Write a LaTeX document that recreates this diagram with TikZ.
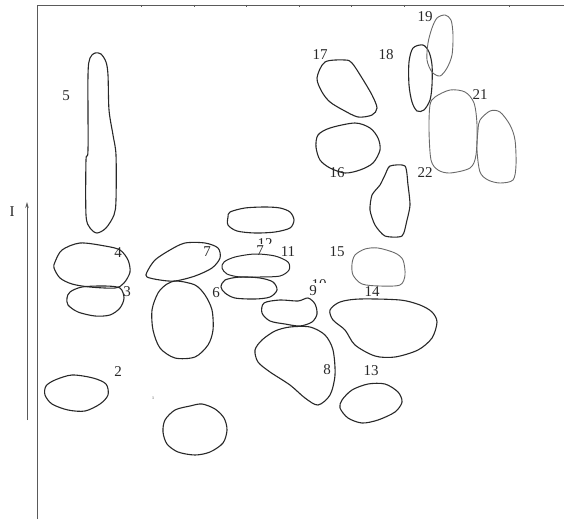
\documentclass[tikz,border=0pt]{standalone}
\usepackage{fontspec}
\setmainfont{Liberation Serif}
\usetikzlibrary{arrows.meta}
\definecolor{ink}{RGB}{40,40,40}
\definecolor{pale}{RGB}{105,105,105}
\definecolor{axis}{RGB}{90,90,90}

\begin{document}
\begin{tikzpicture}[x=1pt, y=-1pt, line width=1.1pt,
    spot/.style={draw=ink, line join=round},
    faint/.style={draw=pale, line width=0.9pt},
    lbl/.style={inner sep=0pt, font=\fontsize{15}{15}\selectfont, text=ink}]
  \useasboundingbox (0,0) rectangle (564,519);
  % frame + ticks
  \draw[axis, line width=0.8pt] (37,519) -- (37,5) -- (564,5);
  \foreach \x in {141.7,194.3,246.7,299.3,351.7,404.3,509} \draw[axis, line width=0.6pt] (\x,5) -- (\x,7.5);
  % intensity arrow
  \coordinate (ibot) at (27,420);
  \coordinate (itop) at (27,202);
  \draw[axis, line width=0.9pt, -{Stealth[length=6pt,width=3.5pt]}] (ibot) -- (itop);
  \node[lbl] (ilab) at (12,212) {I};
  % spot 5
  \draw[spot] plot[smooth cycle, tension=0.5] coordinates {(95,53) (101,54) (106,62) (108,75) (109,110) (113,135) (116,155) (116,200) (114,215) (106,228) (97,233) (90,228) (86,215) (86,160) (88,150) (88,75) (90,58)};
  \node[lbl] (l5) at (66,96) {5};
  % spots 4, 3, 2
  \draw[spot] plot[smooth cycle, tension=0.5] coordinates {(55,262) (62,250) (80,243) (105,246) (120,250) (128,260) (130,272) (124,283) (115,288) (90,287) (72,284) (60,278) (54,268)};
  \node[lbl] (l4) at (118,253) {4};
  \draw[spot] plot[smooth cycle, tension=0.5] coordinates {(70,292) (82,287) (105,286) (120,288) (124,298) (120,308) (110,315) (95,316) (78,312) (68,305) (67,298)};
  \node[lbl] (l3) at (127,292) {3};
  \draw[spot] plot[smooth cycle, tension=0.5] coordinates {(46,386) (55,380) (72,375) (93,378) (106,384) (108,395) (100,404) (85,411) (68,410) (52,404) (45,395)};
  \node[lbl] (l2) at (118,372) {2};
  % spot 1
  \node[inner sep=0pt, font=\fontsize{4}{4}\selectfont, text=ink] (l1) at (153,398) {1};
  \draw[spot] plot[smooth cycle, tension=0.5] coordinates {(165,420) (175,410) (190,406) (202,404) (215,409) (224,418) (227,430) (223,443) (210,452) (195,455) (178,452) (167,444) (163,432)};
  % spot 7 and the one below it
  \draw[spot] plot[smooth cycle, tension=0.5] coordinates {(147,272) (155,260) (170,250) (185,243) (205,243) (218,248) (220,258) (212,268) (195,276) (175,281) (160,280) (147,277)};
  \node[lbl] (l7a) at (207,252) {7};
  \draw[spot] plot[smooth cycle, tension=0.5] coordinates {(177,281) (195,285) (205,295) (212,310) (213,330) (208,345) (195,357) (175,358) (160,348) (153,330) (152,310) (158,293) (167,284)};
  % spots 12, 11, 6
  \draw[spot] plot[smooth cycle, tension=0.5] coordinates {(230,212) (245,208) (265,207) (280,208) (290,212) (294,220) (290,228) (275,232) (255,233) (237,231) (228,225) (228,217)};
  \begin{scope}
    \clip (250,230) rectangle (285,243.5);
    \node[lbl] (l12) at (265,244) {12};
  \end{scope}
  \draw[spot, line width=1pt] plot[smooth cycle, tension=0.5] coordinates {(224,262) (235,257) (255,254) (275,256) (288,262) (289,270) (280,276) (260,277) (240,277) (227,274) (222,268)};
  \node[lbl] (l7b) at (260,251) {7};
  \node[lbl] (l11) at (288,252) {11};
  \draw[spot] plot[smooth cycle, tension=0.5] coordinates {(225,280) (240,277) (260,278) (273,282) (277,290) (270,297) (255,299) (235,298) (225,293) (221,287)};
  \node[lbl] (l6) at (216,293) {6};
  % spots 9, 10, 8
  \draw[spot] plot[smooth cycle, tension=0.5] coordinates {(264,303) (280,300) (298,301) (308,298) (315,304) (317,314) (312,322) (300,326) (285,324) (270,321) (262,313)};
  \node[lbl] (l9) at (313,291) {9};
  \begin{scope}
    \clip (305,270) rectangle (335,282.5);
    \node[lbl] (l10) at (319,285) {10};
  \end{scope}
  \draw[spot] plot[smooth cycle, tension=0.5] coordinates {(290,327) (310,327) (325,335) (333,350) (335,375) (330,395) (318,405) (305,398) (290,385) (270,372) (258,362) (255,350) (262,340) (275,331)};
  \node[lbl] (l8) at (327,370) {8};
  % spots 13, 14, 15
  \draw[spot] plot[smooth cycle, tension=0.5] coordinates {(342,400) (352,390) (368,384) (385,384) (398,392) (402,402) (395,412) (378,420) (362,423) (348,418) (340,408)};
  \node[lbl] (l13) at (371,371) {13};
  \draw[spot] plot[smooth cycle, tension=0.5] coordinates {(340,302) (360,299) (400,300) (420,305) (432,312) (437,322) (432,338) (418,350) (395,357) (375,356) (355,345) (345,330) (333,320) (330,310)};
  \node[lbl] (l14) at (372,292) {14};
  \draw[faint] plot[smooth cycle, tension=0.5] coordinates {(355,255) (365,249) (378,248) (395,253) (403,260) (405,275) (400,285) (380,286) (362,284) (353,275) (352,264)};
  \node[lbl] (l15) at (337,252) {15};
  % spots 22, 16, 17, 18
  \draw[spot] plot[smooth cycle, tension=0.4] coordinates {(390,166) (405,166) (408,185) (410,205) (407,220) (402,236) (385,236) (375,225) (370,210) (372,195) (380,185) (385,175)};
  \node[lbl] (l22) at (425,173) {22};
  \draw[spot] plot[smooth cycle, tension=0.5] coordinates {(318,135) (330,128) (355,123) (370,128) (378,138) (380,150) (373,163) (360,170) (345,173) (330,168) (320,160) (316,147)};
  \node[lbl] (l16) at (337,173) {16};
  \draw[spot] plot[smooth cycle, tension=0.5] coordinates {(325,62) (345,60) (352,63) (362,78) (372,95) (377,108) (372,115) (358,117) (343,110) (330,102) (322,92) (317,78)};
  \node[lbl] (l17) at (320,55) {17};
  \draw[spot] plot[smooth cycle, tension=0.5] coordinates {(413,48) (423,45) (429,52) (432,65) (432,85) (430,100) (424,110) (417,111) (412,102) (409,85) (409,62)};
  \node[lbl] (l18) at (386,55) {18};
  % spots 19, 21 and right neighbour
  \draw[faint] plot[smooth cycle, tension=0.5] coordinates {(437,18) (445,15) (451,20) (453,35) (452,55) (447,68) (440,76) (432,72) (427,60) (428,43) (432,28)};
  \node[lbl] (l19) at (425,17) {19};
  \draw[faint] plot[smooth cycle, tension=0.5] coordinates {(435,97) (450,90) (465,92) (474,103) (477,125) (476,155) (470,168) (450,173) (438,170) (431,160) (429,130) (430,105)};
  \node[lbl] (l21) at (480,95) {21};
  \draw[faint] plot[smooth cycle, tension=0.5] coordinates {(480,120) (490,111) (500,112) (510,125) (515,140) (516,165) (513,180) (500,183) (488,180) (480,172) (477,150) (478,130)};
\end{tikzpicture}
\end{document}
